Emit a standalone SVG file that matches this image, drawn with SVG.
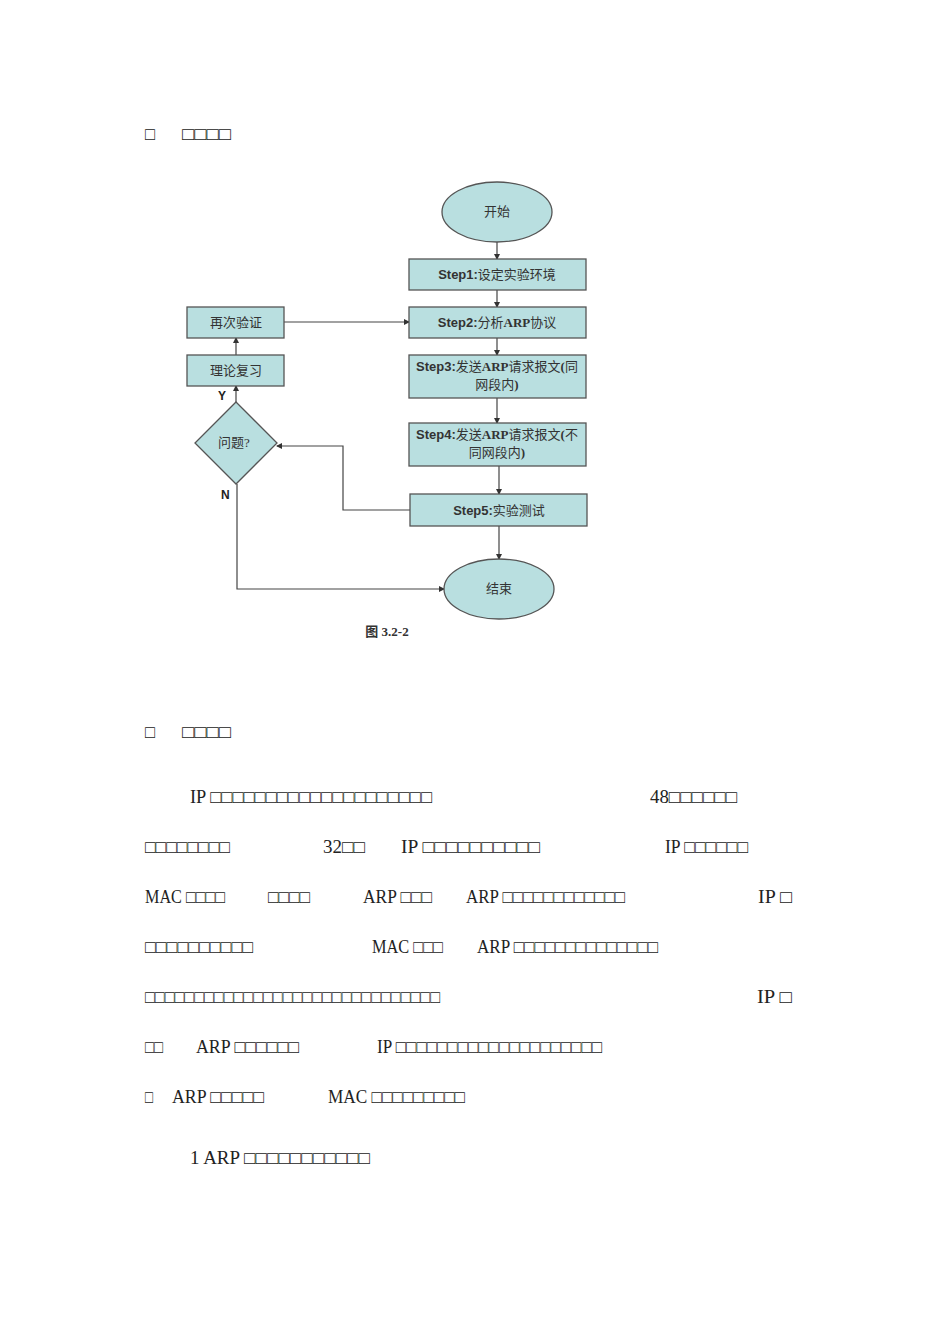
<svg xmlns="http://www.w3.org/2000/svg" width="950" height="1344" viewBox="0 0 950 1344">
<defs>
<marker id="ah" markerWidth="6" markerHeight="6" refX="5" refY="3" orient="auto" markerUnits="userSpaceOnUse"><path d="M0,0 L6,3 L0,6 z" fill="#333"/></marker>
<style>
.n{fill:#b9dfe0;stroke:#555;stroke-width:1.3}
.c{fill:none;stroke:#444;stroke-width:1.2;marker-end:url(#ah)}
.t{font-family:"Liberation Serif","Noto Sans CJK SC",serif;font-size:13px;fill:#333;text-anchor:middle}
.b{font-family:"Liberation Sans",Arial,sans-serif;font-weight:bold;font-size:13px}
.p{font-family:"Liberation Serif","DejaVu Sans",serif;font-size:18px;fill:#222}
</style>
</defs>
<rect width="950" height="1344" fill="#fff"/>
<g class="p">
<text x="145" y="140" textLength="10" lengthAdjust="spacingAndGlyphs">□</text>
<text x="182" y="140" textLength="49" lengthAdjust="spacingAndGlyphs">□□□□</text>
<text x="145" y="738" textLength="10" lengthAdjust="spacingAndGlyphs">□</text>
<text x="182" y="738" textLength="49" lengthAdjust="spacingAndGlyphs">□□□□</text>
<text x="190" y="803" textLength="242" lengthAdjust="spacingAndGlyphs">IP □□□□□□□□□□□□□□□□□□□□</text>
<text x="650" y="803" textLength="87" lengthAdjust="spacingAndGlyphs">48□□□□□□</text>
<text x="145" y="853" textLength="85" lengthAdjust="spacingAndGlyphs">□□□□□□□□</text>
<text x="323" y="853" textLength="42" lengthAdjust="spacingAndGlyphs">32□□</text>
<text x="401" y="853" textLength="139" lengthAdjust="spacingAndGlyphs">IP □□□□□□□□□□</text>
<text x="665" y="853" textLength="83" lengthAdjust="spacingAndGlyphs">IP □□□□□□</text>
<text x="145" y="903" textLength="80" lengthAdjust="spacingAndGlyphs">MAC □□□□</text>
<text x="268" y="903" textLength="42" lengthAdjust="spacingAndGlyphs">□□□□</text>
<text x="363" y="903" textLength="69" lengthAdjust="spacingAndGlyphs">ARP □□□</text>
<text x="466" y="903" textLength="159" lengthAdjust="spacingAndGlyphs">ARP □□□□□□□□□□□□</text>
<text x="758" y="903" textLength="34" lengthAdjust="spacingAndGlyphs">IP □</text>
<text x="145" y="953" textLength="108" lengthAdjust="spacingAndGlyphs">□□□□□□□□□□</text>
<text x="372" y="953" textLength="71" lengthAdjust="spacingAndGlyphs">MAC □□□</text>
<text x="477" y="953" textLength="181" lengthAdjust="spacingAndGlyphs">ARP □□□□□□□□□□□□□□</text>
<text x="145" y="1003" textLength="295" lengthAdjust="spacingAndGlyphs">□□□□□□□□□□□□□□□□□□□□□□□□□□□□□□</text>
<text x="757" y="1003" textLength="35" lengthAdjust="spacingAndGlyphs">IP □</text>
<text x="145" y="1053" textLength="18" lengthAdjust="spacingAndGlyphs">□□</text>
<text x="196" y="1053" textLength="103" lengthAdjust="spacingAndGlyphs">ARP □□□□□□</text>
<text x="377" y="1053" textLength="225" lengthAdjust="spacingAndGlyphs">IP □□□□□□□□□□□□□□□□□□□□</text>
<text x="145" y="1103" textLength="8" lengthAdjust="spacingAndGlyphs">□</text>
<text x="172" y="1103" textLength="92" lengthAdjust="spacingAndGlyphs">ARP □□□□□</text>
<text x="328" y="1103" textLength="137" lengthAdjust="spacingAndGlyphs">MAC □□□□□□□□□</text>
<text x="190" y="1164" textLength="180" lengthAdjust="spacingAndGlyphs">1  ARP □□□□□□□□□□□</text>
</g>
<g id="connectors">
<line class="c" x1="497" y1="242" x2="497" y2="259"/>
<line class="c" x1="497" y1="290" x2="497" y2="307"/>
<line class="c" x1="497" y1="338" x2="497" y2="355"/>
<line class="c" x1="497" y1="398" x2="497" y2="423"/>
<line class="c" x1="499" y1="466" x2="499" y2="494"/>
<line class="c" x1="499" y1="526" x2="499" y2="559"/>
<line class="c" x1="284" y1="322" x2="409" y2="322"/>
<line class="c" x1="236" y1="355" x2="236" y2="338"/>
<line class="c" x1="236" y1="402" x2="236" y2="386"/>
<polyline class="c" points="410,510 343,510 343,446 277,446"/>
<polyline class="c" points="237,484 237,589 444,589"/>
</g>
<g id="start"><ellipse class="n" cx="497" cy="212" rx="55" ry="30"/><text class="t" x="497" y="216">开始</text></g>
<g id="step1"><rect class="n" x="409" y="259" width="177" height="31"/><text class="t" x="497" y="279"><tspan class="b">Step1:</tspan>设定实验环境</text></g>
<g id="step2"><rect class="n" x="409" y="307" width="177" height="31"/><text class="t" x="497" y="327"><tspan class="b">Step2:</tspan>分析<tspan font-weight="bold">ARP</tspan>协议</text></g>
<g id="step3"><rect class="n" x="409" y="355" width="177" height="43"/><text class="t" x="497" y="371"><tspan class="b">Step3:</tspan>发送<tspan font-weight="bold">ARP</tspan>请求报文<tspan font-weight="bold">(</tspan>同</text><text class="t" x="497" y="389">网段内<tspan font-weight="bold">)</tspan></text></g>
<g id="step4"><rect class="n" x="409" y="423" width="177" height="43"/><text class="t" x="497" y="439"><tspan class="b">Step4:</tspan>发送<tspan font-weight="bold">ARP</tspan>请求报文<tspan font-weight="bold">(</tspan>不</text><text class="t" x="497" y="457">同网段内<tspan font-weight="bold">)</tspan></text></g>
<g id="step5"><rect class="n" x="410" y="494" width="177" height="32"/><text class="t" x="499" y="515"><tspan class="b">Step5:</tspan>实验测试</text></g>
<g id="end"><ellipse class="n" cx="499" cy="589" rx="55" ry="30"/><text class="t" x="499" y="593">结束</text></g>
<g id="reverify"><rect class="n" x="187" y="307" width="97" height="31"/><text class="t" x="236" y="327">再次验证</text></g>
<g id="review"><rect class="n" x="187" y="355" width="97" height="31"/><text class="t" x="236" y="375">理论复习</text></g>
<g id="question"><polygon class="n" points="236,402 277,443 236,484 195,443"/><text class="t" x="234" y="447">问题?</text></g>
<text x="218" y="400" font-family="Liberation Sans,Arial,sans-serif" font-weight="bold" font-size="12" fill="#222">Y</text>
<text x="221" y="499" font-family="Liberation Sans,Arial,sans-serif" font-weight="bold" font-size="12" fill="#222">N</text>
<text x="387" y="636" class="t" font-weight="bold" font-size="12">图 3.2-2</text>
</svg>
